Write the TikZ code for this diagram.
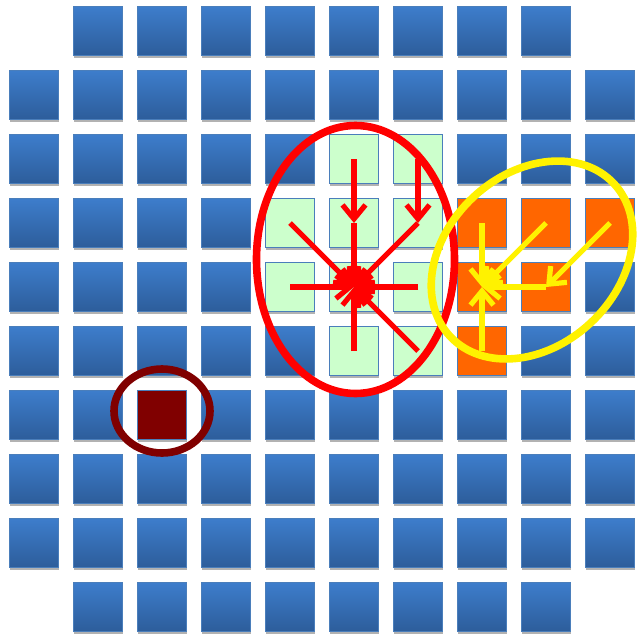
\documentclass[tikz,border=0pt]{standalone}
\usepackage{xcolor}
\usepackage{tikz}
\usetikzlibrary{arrows.meta,shapes.geometric,shadows}

\definecolor{pxtop}{HTML}{3D7DCB}
\definecolor{pxbottom}{HTML}{2D5D9B}
\definecolor{pxedge}{HTML}{4A7EBB}
\definecolor{pxgreen}{HTML}{CCFFCC}
\definecolor{pxorange}{HTML}{FF6600}
\definecolor{pxmaroon}{HTML}{800000}

\begin{document}
\begin{tikzpicture}[
  x=1pt,y=-1pt,
  pixel/.style={draw=pxedge,line width=1.2pt,minimum size=48.8pt,inner sep=0pt,
    top color=pxtop,bottom color=pxbottom,
    drop shadow={shadow xshift=0.5pt,shadow yshift=-3pt,opacity=.3,fill=black}},
  flat/.style={top color=#1,bottom color=#1},
  ring/.style={draw=#1,ellipse,line width=7.6pt,inner sep=0pt},
  flow/.style={draw=#1,line width=5.2pt,
    -{Straight Barb[length=14pt,width=23pt,line width=5.2pt]}},
  % window pixels
  p5-2/.style={flat=pxgreen},p6-2/.style={flat=pxgreen},
  p4-3/.style={flat=pxgreen},p5-3/.style={flat=pxgreen},p6-3/.style={flat=pxgreen},
  p4-4/.style={flat=pxgreen},p5-4/.style={flat=pxgreen},p6-4/.style={flat=pxgreen},
  p5-5/.style={flat=pxgreen},p6-5/.style={flat=pxgreen},
  % propagated pixels
  p7-3/.style={flat=pxorange},p8-3/.style={flat=pxorange},p9-3/.style={flat=pxorange},
  p7-4/.style={flat=pxorange},p8-4/.style={flat=pxorange},p7-5/.style={flat=pxorange},
  p2-6/.style={flat=pxmaroon}
]
  \useasboundingbox (0,0) rectangle (638,635);
  \foreach \r in {0,...,9} {
    \foreach \c in {0,...,9} {
      \ifnum\numexpr\r*(9-\r)+\c*(9-\c)\relax>0
        \node[pixel,p\c-\r/.try] (p-\c-\r) at (34+64*\c,31+64*\r) {};
      \fi
    }
  }
  % red window
  \node[ring=red,minimum width=198pt,minimum height=268pt] (window) at (355.5,259.5) {};
  \draw[flow=red] (p-5-2.center) -- (p-5-3.center);
  \draw[flow=red] (p-6-2.center) -- (p-6-3.center);
  \foreach \n in {5-3,4-3,6-3,4-4,6-4,6-5,5-5}
    \draw[flow=red] (p-\n.center) -- (p-5-4.center);
  % yellow window
  \node[ring=yellow,minimum width=224pt,minimum height=172pt,rotate=43] (spread) at (532,260) {};
  \draw[flow=yellow] (p-9-3.center) -- (p-8-4.center);
  \foreach \n in {7-3,8-3,8-4,7-5}
    \draw[flow=yellow] (p-\n.center) -- (p-7-4.center);
  % single pixel
  \node[ring=pxmaroon,minimum width=96pt,minimum height=84pt] (seed) at (162,411) {};
\end{tikzpicture}
\end{document}
